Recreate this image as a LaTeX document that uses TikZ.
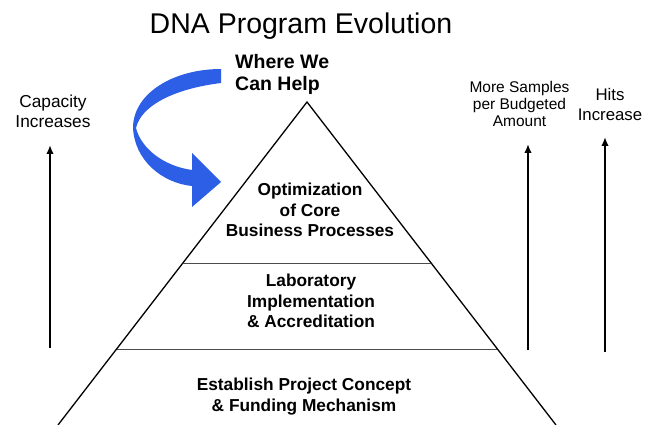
\documentclass[tikz,border=0pt]{standalone}
\usepackage{fontspec}
\setmainfont{Liberation Sans}
\usetikzlibrary{calc,arrows.meta}
\definecolor{ribbon}{RGB}{45,95,230}
\begin{document}
\begin{tikzpicture}[x=1pt,y=-1pt,
  lbl/.style={inner sep=0pt, align=center, font=\fontsize{17.3}{20.5}\selectfont\bfseries},
  side/.style={inner sep=0pt, align=center},
  uparrow/.style={line width=2.6pt, -{Latex[length=9pt,width=7.5pt]}},
  pyredge/.style={line width=1.3pt},
  divider/.style={line width=0.8pt, black!70}]
\useasboundingbox (0,0) rectangle (657,425);
\fill[white] (0,0) rectangle (657,425);

% title
\node[inner sep=0pt, anchor=base, font=\fontsize{28.5}{32}\selectfont] (title) at (301,34) {DNA Program Evolution};

% pyramid
\coordinate (apex) at (307,102);
\coordinate (bl) at (58,425);
\coordinate (br) at (556,425);
\draw[pyredge] (bl) -- (apex) -- (br);
\coordinate (l1) at ($(apex)!0.4985!(bl)$);
\coordinate (r1) at ($(apex)!0.4985!(br)$);
\coordinate (l2) at ($(apex)!0.7647!(bl)$);
\coordinate (r2) at ($(apex)!0.7647!(br)$);
\draw[divider] (l1) -- (r1);
\draw[divider] (l2) -- (r2);

% pyramid labels
\node[lbl] (opt) at (310,210) {Optimization\\of Core\\Business Processes};
\node[lbl] (lab) at (311,301) {Laboratory\\Implementation\\\& Accreditation};
\node[lbl] (est) at (304,396.5) {Establish Project Concept\\\& Funding Mechanism};

% where we can help
\node[inner sep=0pt, align=left, anchor=west, font=\fontsize{19.5}{22}\selectfont\bfseries] (help) at (235,74) {Where We\\Can Help};

% blue ribbon arrow
\fill[ribbon] (221,69) .. controls (175,69) and (134,92) .. (133,127)
  .. controls (134,160) and (162,183) .. (192,186)
  -- (192,207) -- (221,182) -- (192,153) -- (192,170)
  .. controls (163,166) and (141,148) .. (136,128)
  .. controls (141,106) and (173,89) .. (221,83) -- cycle;

% side labels
\node[side, font=\fontsize{17.3}{20}\selectfont] (cap) at (53,111) {Capacity\\Increases};
\node[side, font=\fontsize{15.5}{17}\selectfont] (more) at (519.5,104.4) {More Samples\\per Budgeted\\Amount};
\node[side, font=\fontsize{16.8}{20}\selectfont] (hits) at (610,104) {Hits\\Increase};

% vertical arrows
\coordinate (capbot) at (50,348);
\coordinate (captop) at (50,145);
\coordinate (morebot) at (528,350);
\coordinate (moretop) at (528,144);
\coordinate (hitsbot) at (605,352);
\coordinate (hitstop) at (605,137);
\draw[uparrow] (capbot) -- (captop);
\draw[uparrow] (morebot) -- (moretop);
\draw[uparrow] (hitsbot) -- (hitstop);
\end{tikzpicture}
\end{document}
